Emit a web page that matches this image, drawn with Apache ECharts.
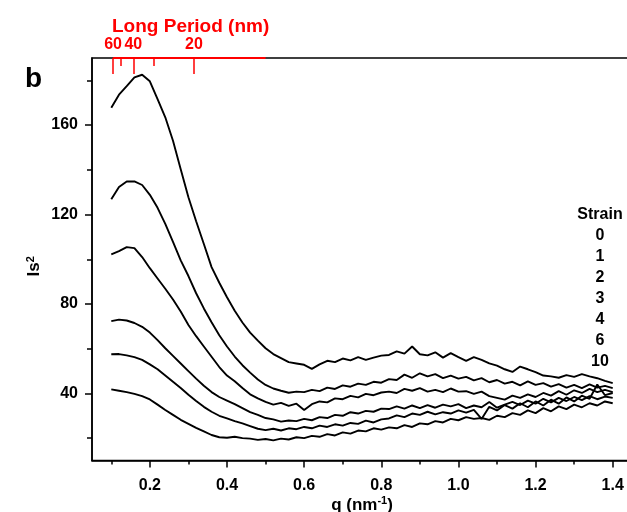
<!DOCTYPE html>
<html><head><meta charset="utf-8">
<script src="https://cdn.jsdelivr.net/npm/echarts@6/dist/echarts.min.js"></script>
<style>html,body{margin:0;padding:0;background:#fff}#c{width:627px;height:512px}</style>
</head><body><div id="c"></div>
<script>
// q values (nm^-1)
const q = [0.10,0.12,0.14,0.16,0.18,0.20,0.22,0.24,0.26,0.28,0.30,0.32,0.34,0.36,0.38,0.40,0.42,0.44,0.46,0.48,
0.50,0.52,0.54,0.56,0.58,0.60,0.62,0.64,0.66,0.68,0.70,0.72,0.74,0.76,0.78,0.80,0.82,0.84,0.86,0.88,
0.90,0.92,0.94,0.96,0.98,1.00,1.02,1.04,1.06,1.08,1.10,1.12,1.14,1.16,1.18,1.20,1.22,1.24,1.26,1.28,
1.30,1.32,1.34,1.36,1.38,1.40];

// Is^2 curves, top to bottom
const curveA = [167.8,173.6,177.4,181.3,182.5,179.6,171.6,163.5,153.0,140.3,127.7,117.0,106.8,96.5,89.5,83.0,77.0,71.7,67.2,63.6,
60.2,57.6,55.8,54.0,53.4,52.8,51.0,53.0,54.6,54.0,55.6,54.8,56.2,55.0,56.0,56.9,57.2,58.8,57.8,61.0,
57.5,57.0,58.4,56.0,58.0,56.2,54.6,56.2,55.0,53.4,52.4,50.8,49.6,52.0,50.8,49.5,48.0,47.6,47.0,48.2,
47.4,48.6,47.6,46.8,45.6,44.6];
const curveB = [126.8,132.3,134.8,134.8,133.2,128.8,123.0,115.8,107.8,99.5,92.5,84.8,78.0,71.8,66.0,61.0,56.5,52.6,49.3,46.2,
43.8,42.2,41.2,40.3,40.8,40.6,41.6,41.0,42.6,42.0,43.6,43.0,44.4,43.8,45.2,44.8,46.4,46.0,48.4,47.0,
49.0,47.6,48.6,46.8,48.0,46.6,47.4,45.8,46.8,45.0,46.0,44.4,45.2,43.6,45.4,43.8,44.6,43.0,44.2,42.6,
43.8,42.4,44.0,42.6,43.4,42.4];
const curveC = [102.2,103.6,105.4,105.0,101.0,96.0,91.4,86.8,82.0,76.6,70.6,65.6,61.0,56.4,51.8,48.0,45.4,42.4,39.6,37.8,
36.2,35.0,35.8,34.4,35.4,32.6,35.2,36.4,36.0,37.8,37.4,38.9,38.2,39.8,39.2,40.4,40.8,40.2,42.0,41.2,
42.4,40.8,41.6,40.6,42.2,40.8,41.0,39.8,40.8,38.8,38.0,37.2,39.0,38.0,39.6,38.4,40.2,39.0,41.0,39.4,
41.4,40.2,42.0,40.6,41.6,40.6];
const curveD = [72.3,73.0,72.6,71.5,69.8,67.2,63.8,60.2,56.8,53.4,50.0,46.6,43.4,40.6,38.4,36.8,35.2,33.4,31.6,30.4,
29.0,28.4,27.4,27.9,27.6,28.6,28.0,29.4,29.0,30.4,30.0,31.6,31.0,32.2,31.8,33.2,33.0,34.2,33.2,34.6,
33.4,34.8,33.6,35.0,34.2,35.2,33.4,34.6,33.8,36.2,33.6,35.0,36.2,34.8,36.8,35.4,37.6,36.0,38.0,36.6,
38.4,37.0,38.8,37.4,38.6,38.0];
const curveE = [57.5,57.6,57.0,56.2,55.0,53.0,50.8,48.0,45.2,42.4,39.4,36.6,34.0,31.8,30.0,28.8,27.6,26.6,25.4,24.2,
23.6,24.2,23.4,24.4,24.0,25.0,24.4,25.6,25.0,26.2,25.6,26.8,26.4,27.8,27.0,28.4,28.8,30.2,29.4,31.0,
30.4,31.8,30.6,31.6,31.0,32.4,31.4,32.6,28.6,34.0,32.4,34.8,33.2,35.6,33.8,36.4,34.6,37.2,35.4,38.2,
36.4,39.0,37.6,44.0,39.2,40.2];
const curveF = [41.8,41.2,40.6,39.8,38.8,37.3,35.0,32.6,30.4,28.2,26.4,24.6,23.0,21.4,20.4,20.2,20.6,20.0,19.8,19.2,
19.6,19.0,19.8,19.4,20.4,20.0,21.0,20.6,21.8,21.2,22.6,22.0,23.4,23.0,24.4,23.8,24.8,24.4,25.8,25.0,
26.6,26.2,27.6,27.0,28.6,28.0,29.4,28.6,29.0,28.2,30.0,29.4,31.2,30.4,32.4,31.2,33.4,32.0,34.2,33.0,
35.0,33.8,35.6,34.6,36.4,35.6];

const strainLabels = ['0','1','2','3','4','6','10'];
const xMajorTicks = [0.2,0.4,0.6,0.8,1.0,1.2,1.4];
const xMinorTicks = [0.1,0.3,0.5,0.7,0.9,1.1,1.3];
const yMajorTicks = [40,80,120,160];
const yMinorTicks = [20,60,100,140,180];
const longPeriodMajor = [60,40,20];   // nm, labelled
const longPeriodMinor = [50,30];      // nm, unlabelled
const longPeriodAxisEndQ = 0.5;       // q where red top axis line ends

const X_MIN = 0.05, X_MAX = 1.45, Y_MIN = 10, Y_MAX = 190;
const FONT = "'Liberation Sans', Arial, sans-serif";
const toQ = L => 2 * Math.PI / L;

const curves = [curveA, curveB, curveC, curveD, curveE, curveF];
const series = curves.map((c, i) => ({
  name: 'Strain ' + strainLabels[i],
  type: 'line',
  xAxisIndex: 0, yAxisIndex: 0,
  data: q.map((x, j) => [x, c[j]]),
  symbol: 'none',
  smooth: false,
  lineStyle: { color: '#000', width: 1.9 },
  silent: true
}));
series.push({
  name: 'longPeriodAxis',
  type: 'line',
  xAxisIndex: 2, yAxisIndex: 0,
  data: [[toQ(longPeriodMajor[0]), Y_MAX], [longPeriodAxisEndQ, Y_MAX]],
  symbol: 'none',
  clip: false,
  silent: true,
  z: 10,
  lineStyle: { color: '#ff0000', width: 2 }
});

const plain = { show: false };
const supStyle = { fontSize: 11, fontWeight: 'bold', verticalAlign: 'top', padding: [0, 0, 8, 0], color: '#000', fontFamily: FONT };
const chart = echarts.init(document.getElementById('c'), null, { renderer: 'canvas' });
chart.setOption({
  backgroundColor: '#fff',
  animation: false,
  textStyle: { fontFamily: FONT },
  title: [
    { text: 'b', left: 20, top: 60, textStyle: { fontSize: 28, fontWeight: 'bold', color: '#000', fontFamily: FONT } },
    { text: 'Long Period (nm)', left: 107, top: 12, textStyle: { fontSize: 19, fontWeight: 'bold', color: '#ff0000', fontFamily: FONT } },
    { text: ['Strain'].concat(strainLabels).join('\n'), left: 595, top: 199, textAlign: 'center',
      textStyle: { fontSize: 16, fontWeight: 'bold', color: '#000', lineHeight: 21, fontFamily: FONT } }
  ],
  grid: { left: 92, right: -5, top: 58, bottom: 51.5, show: true, borderColor: '#000', borderWidth: 1.5,
          containLabel: false, outerBoundsMode: 'none' },
  xAxis: [
    { type: 'value', gridIndex: 0, position: 'bottom', min: X_MIN, max: X_MAX,
      axisLine: { onZero: false, lineStyle: { color: '#000', width: 1.5 } },
      axisTick: { inside: false, length: 7, customValues: xMajorTicks, lineStyle: { color: '#000', width: 1.5 } },
      axisLabel: { customValues: xMajorTicks, formatter: v => v.toFixed(1), margin: 17, fontSize: 16,
                   fontWeight: 'bold', color: '#000', fontFamily: FONT },
      splitLine: plain,
      name: 'q (nm{sup|-1})', nameLocation: 'middle', nameGap: 35, nameMoveOverlap: false,
      nameTextStyle: { fontSize: 17, fontWeight: 'bold', color: '#000', fontFamily: FONT, rich: { sup: supStyle } } },
    { type: 'value', gridIndex: 0, position: 'bottom', min: X_MIN, max: X_MAX,
      axisLine: plain, axisLabel: plain, splitLine: plain,
      axisTick: { inside: false, length: 4, customValues: xMinorTicks, lineStyle: { color: '#000', width: 1.5 } } },
    { type: 'value', gridIndex: 0, position: 'top', min: X_MIN, max: X_MAX,
      axisLine: plain, splitLine: plain,
      axisTick: { inside: true, length: 16, customValues: longPeriodMajor.map(toQ), lineStyle: { color: '#ff0000', width: 1.5 } },
      axisLabel: { customValues: longPeriodMajor.map(toQ), formatter: v => String(Math.round(2 * Math.PI / v)),
                   margin: 5, fontSize: 16, fontWeight: 'bold', color: '#ff0000', fontFamily: FONT } },
    { type: 'value', gridIndex: 0, position: 'top', min: X_MIN, max: X_MAX,
      axisLine: plain, splitLine: plain, axisLabel: plain,
      axisTick: { inside: true, length: 8, customValues: longPeriodMinor.map(toQ), lineStyle: { color: '#ff0000', width: 1.5 } } }
  ],
  yAxis: [
    { type: 'value', gridIndex: 0, position: 'left', min: Y_MIN, max: Y_MAX,
      axisLine: { show: true, onZero: false, lineStyle: { color: '#000', width: 1.5 } },
      axisTick: { show: true, inside: false, length: 7, customValues: yMajorTicks, lineStyle: { color: '#000', width: 1.5 } },
      axisLabel: { customValues: yMajorTicks, margin: 14, fontSize: 16, fontWeight: 'bold', color: '#000', fontFamily: FONT },
      splitLine: plain,
      name: 'Is{sup|2}', nameLocation: 'middle', nameRotate: 90, nameGap: 48, nameMoveOverlap: false,
      nameTextStyle: { fontSize: 17, fontWeight: 'bold', color: '#000', fontFamily: FONT, padding: [0, 14, 0, 0], rich: { sup: supStyle } } },
    { type: 'value', gridIndex: 0, position: 'left', min: Y_MIN, max: Y_MAX,
      axisLine: plain, axisLabel: plain, splitLine: plain,
      axisTick: { show: true, inside: false, length: 5, customValues: yMinorTicks, lineStyle: { color: '#000', width: 1.5 } } }
  ],
  series: series
});
</script></body></html>
